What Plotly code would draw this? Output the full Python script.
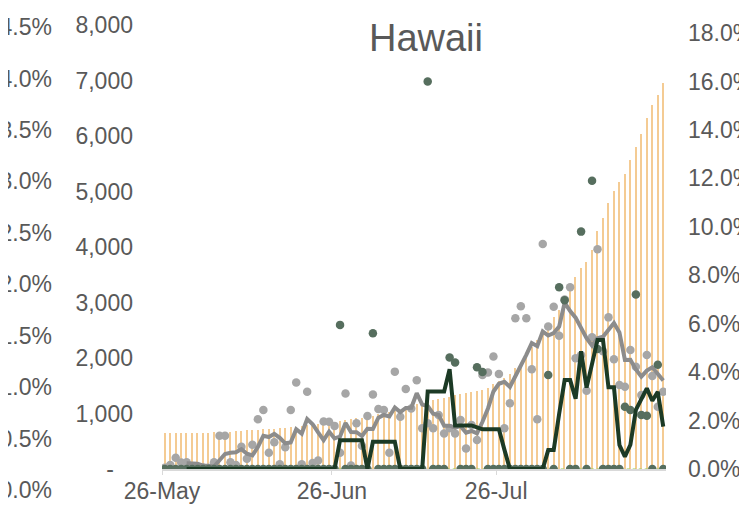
import plotly.graph_objects as go
import pandas as pd

# ---- data ----
start_date = "2020-05-26 12:00"
n_days = 92

cum_cases = [643, 645, 646, 647, 649, 651, 652, 653, 655, 658,
             665, 670, 673, 680, 686, 696, 706, 710, 717, 722,
             728, 735, 741, 755, 764, 771, 785, 798, 807, 815,
             835, 850, 864, 880, 895, 917, 926, 948, 964, 985,
             1009, 1023, 1049, 1071, 1094, 1142, 1170, 1190, 1215, 1235,
             1262, 1282, 1305, 1330, 1350, 1365, 1385, 1405, 1425, 1460,
             1524, 1580, 1634, 1712, 1814, 1904, 2084, 2204, 2324, 2474,
             2564, 2744, 2865, 3105, 3285, 3465, 3616, 3736, 3946, 4288,
             4517, 4798, 5015, 5180, 5315, 5570, 5808, 6036, 6318, 6559,
             6739, 6949]

case_growth = [0.05, 0.16, 0.46, 0.27, 0.28, 0.05, 0.05, 0.05, 0.05, 0.28,
               1.37, 1.37, 0.28, 0.16, 0.92, 0.42, 1.0, 2.05, 2.44, 0.67,
               1.1, 0.2, 0.9, 2.44, 3.57, 0.2, 3.19, 0.25, 0.35, 1.96,
               1.95, 1.78, 0.67, 3.12, 0.14, 1.89, 0.96, 2.19, 3.08, 2.48,
               2.44, 0.67, 4.02, 2.16, 3.3, 2.5, 3.66, 1.68, 1.89, 1.68,
               2.23, 1.47, 1.68, 1.47, 2.02, 0.85, 1.82, 1.2, 3.88, 3.98,
               4.64, 3.92, 1.68, 2.71, 6.22, 6.72, 6.22, 4.12, 2.05, 9.29,
               5.88, 6.7, 5.5, 7.0, 7.5, 4.57, 4.7, 3.23, 5.44, 9.07,
               4.86, 6.26, 4.53, 3.47, 3.4, 4.91, 4.22, 3.05, 4.71, 3.84,
               2.57, 3.19]

case_growth_avg = [None, None, None, None, 0.24, 0.24, 0.22, 0.14, 0.1, 0.1,
                   0.36, 0.62, 0.67, 0.69, 0.82, 0.63, 0.56, 0.91, 1.37, 1.32,
                   1.45, 1.29, 1.06, 1.1, 1.64, 1.46, 2.06, 1.85, 1.51, 1.19,
                   1.54, 1.26, 1.34, 1.9, 1.53, 1.52, 1.36, 1.66, 1.65, 2.12,
                   2.23, 2.17, 2.54, 2.35, 2.52, 2.53, 3.13, 2.66, 2.6, 2.28,
                   2.23, 1.79, 1.79, 1.71, 1.77, 1.5, 1.57, 1.47, 1.95, 2.5,
                   3.2, 3.52, 3.6, 3.39, 3.83, 4.25, 4.71, 5.2, 5.07, 5.68,
                   5.51, 5.61, 5.88, 6.87, 6.52, 6.25, 5.85, 5.4, 5.09, 5.4,
                   5.46, 5.77, 6.03, 5.64, 4.5, 4.51, 4.11, 3.81, 4.06, 4.2,
                   3.9, 3.65]

death_growth = [0, 0, 0, 0, 0, 0, 0, 0, 0, 0,
                0, 0, 0, 0, 0, 0, 0, 0, 0, 0,
                0, 0, 0, 0, 0, 0, 0, 0, 0, 0,
                0, 0, 5.95, 0, 0, 0, 0, 0, 5.6, 0,
                0, 0, 0, 0, 0, 0, 0, 0, 16.0, 0,
                0, 0, 4.6, 4.4, 0, 0, 0, 4.2, 4.0, 0,
                0, 0, 0, 0, 0, 0, 0, 0, 0, 0,
                3.88, 0, 7.5, 6.97, 0, 0, 9.8, 0, 11.9, 4.95,
                0, 0, 0, 0, 2.57, 2.44, 7.2, 2.23, 2.2, 0,
                4.3, 0]

death_growth_avg = [None, None, None, None, 0, 0, 0, 0, 0, 0,
                    0, 0, 0, 0, 0, 0, 0, 0, 0, 0,
                    0, 0, 0, 0, 0, 0, 0, 0, 0, 0,
                    0, 0, 1.19, 1.19, 1.19, 1.19, 1.19, 0, 1.12, 1.12,
                    1.12, 1.12, 1.12, 0, 0, 0, 0, 0, 3.2, 3.2,
                    3.2, 3.2, 4.12, 1.8, 1.8, 1.8, 1.8, 1.72, 1.64, 1.64,
                    1.64, 1.64, 0.8, 0, 0, 0, 0, 0, 0, 0,
                    0.78, 0.78, 2.28, 3.67, 3.67, 2.9, 4.86, 3.36, 4.34, 5.33,
                    5.33, 3.37, 3.37, 0.99, 0.51, 1.0, 2.44, 2.89, 3.33, 2.82,
                    3.19, 1.75]

count_ticks = [0, 1000, 2000, 3000, 4000, 5000, 6000, 7000, 8000]
count_ticktext = ["-\u00a0\u00a0\u00a0", "1,000", "2,000", "3,000", "4,000",
                  "5,000", "6,000", "7,000", "8,000"]
pct_ticks = [0, 2, 4, 6, 8, 10, 12, 14, 16, 18]
pct_ticktext = ["0.0%", "2.0%", "4.0%", "6.0%", "8.0%", "10.0%", "12.0%",
                "14.0%", "16.0%", "18.0%"]
side_pct_ticks = [0, 0.5, 1.0, 1.5, 2.0, 2.5, 3.0, 3.5, 4.0, 4.5]
side_pct_ticktext = ["0.0%", "0.5%", "1.0%", "1.5%", "2.0%", "2.5%", "3.0%",
                     "3.5%", "4.0%", "4.5%"]
date_ticks = ["2020-05-26", "2020-06-26", "2020-07-26"]

dates = pd.date_range(start_date, periods=n_days, freq="D")

TXT = "#595959"
FONT = "Liberation Sans, Arial, sans-serif"
# the page body adds an 8px offset; all layout pixel targets are shifted by it
OFF = 8
H_PAPER_TOP = 10
H_PAPER_BOT = 531 - 40
PH = H_PAPER_BOT - H_PAPER_TOP


def ydom(top_px, bot_px):
    return [(H_PAPER_BOT - (bot_px - OFF)) / PH, (H_PAPER_BOT - (top_px - OFF)) / PH]


fig = go.Figure()

fig.add_trace(go.Bar(x=dates, y=cum_cases, width=0.25 * 86400000,
                     marker=dict(color="#F4CB93", line=dict(width=0)),
                     xaxis="x", yaxis="y", hoverinfo="skip"))

fig.add_trace(go.Scatter(x=dates, y=[0] * n_days, mode="lines",
                         line=dict(color="#92D050", width=1, dash="dot"),
                         xaxis="x", yaxis="y2", hoverinfo="skip"))

fig.add_trace(go.Scatter(x=dates, y=case_growth, mode="markers",
                         marker=dict(size=8.5, color="#A6A6A6"),
                         xaxis="x", yaxis="y2"))

fig.add_trace(go.Scatter(x=dates, y=case_growth_avg, mode="lines",
                         line=dict(color="#8C8C8C", width=4),
                         connectgaps=False, xaxis="x", yaxis="y2"))

fig.add_trace(go.Scatter(x=dates, y=death_growth, mode="markers",
                         marker=dict(size=8.5, color="#566E5E"),
                         xaxis="x", yaxis="y2"))

fig.add_trace(go.Scatter(x=dates, y=death_growth_avg, mode="lines",
                         line=dict(color="#1C3A25", width=4),
                         xaxis="x", yaxis="y2"))

# invisible trace carrying the clipped neighbouring axis at far left
fig.add_trace(go.Scatter(x=[0], y=[0], mode="markers", marker=dict(opacity=0),
                         xaxis="x2", yaxis="y3", hoverinfo="skip"))

fig.update_layout(
    width=747, height=531,
    margin=dict(l=0, r=0, t=H_PAPER_TOP, b=531 - H_PAPER_BOT),
    paper_bgcolor="white", plot_bgcolor="white",
    showlegend=False,
    font=dict(family=FONT, size=23, color=TXT),
    title=dict(text="Hawaii", x=(426 - OFF) / 747, xanchor="center",
               y=1 - (38 - OFF) / 531, yanchor="middle",
               font=dict(family=FONT, size=38, color=TXT)),
    bargap=0,
    xaxis=dict(domain=[(162 - OFF) / 747, (666 - OFF) / 747], anchor="y",
               type="date", range=["2020-05-26", "2020-08-26"],
               tickvals=date_ticks, tickformat="%d-%b",
               ticks="outside", ticklen=4, tickcolor="#D9D9D9",
               showline=True, linecolor="#D9D9D9", linewidth=1.5,
               showgrid=False, zeroline=False, automargin=False,
               ticklabelstandoff=-3),
    yaxis=dict(domain=ydom(25, 469), anchor="x",
               range=[0, 8000], tickvals=count_ticks, ticktext=count_ticktext,
               showgrid=False, zeroline=False, showline=False,
               automargin=False, ticklabelstandoff=28),
    yaxis2=dict(overlaying="y", side="right", anchor="x",
                range=[0, 18 * 444 / 436], tickvals=pct_ticks,
                ticktext=pct_ticktext,
                showgrid=False, zeroline=False, showline=False,
                automargin=False, ticklabelstandoff=21),
    xaxis2=dict(domain=[(53 - OFF) / 747, (55 - OFF) / 747], anchor="y3",
                visible=False, range=[-1, 1]),
    yaxis3=dict(domain=ydom(27, 490), anchor="x2",
                range=[0, 4.5], tickvals=side_pct_ticks,
                ticktext=side_pct_ticktext, showgrid=False, zeroline=False,
                showline=False, automargin=False),
)

fig.write_html("out.html")
